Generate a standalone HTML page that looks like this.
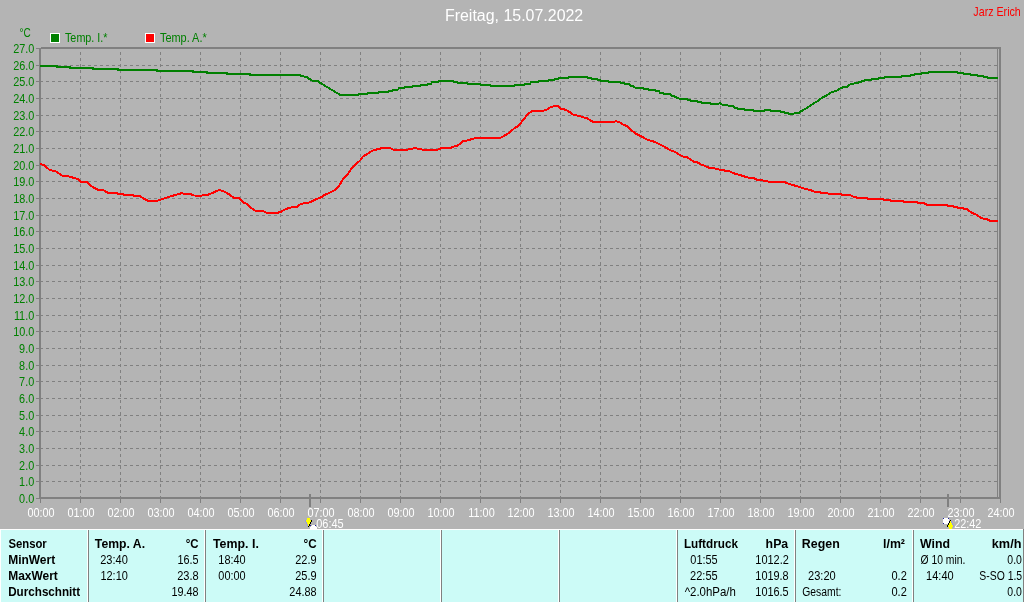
<!DOCTYPE html>
<html><head><meta charset="utf-8"><title>Freitag, 15.07.2022</title>
<style>
html,body{margin:0;padding:0;background:#b4b4b4;}
body{width:1024px;height:602px;overflow:hidden;position:relative;font-family:"Liberation Sans",sans-serif;}
svg{position:absolute;left:0;top:0;display:block;font-family:"Liberation Sans",sans-serif;}
</style></head>
<body>
<svg width="1024" height="602" viewBox="0 0 1024 602" font-size="12.5">
<rect x="0" y="0" width="1024" height="602" fill="#b4b4b4"/>
<!-- grid -->
<g stroke="#808080" stroke-width="1" stroke-dasharray="3 3" shape-rendering="crispEdges">
<line x1="40" y1="481.5" x2="999" y2="481.5"/><line x1="40" y1="465.5" x2="999" y2="465.5"/><line x1="40" y1="448.5" x2="999" y2="448.5"/><line x1="40" y1="431.5" x2="999" y2="431.5"/><line x1="40" y1="415.5" x2="999" y2="415.5"/><line x1="40" y1="398.5" x2="999" y2="398.5"/><line x1="40" y1="381.5" x2="999" y2="381.5"/><line x1="40" y1="365.5" x2="999" y2="365.5"/><line x1="40" y1="348.5" x2="999" y2="348.5"/><line x1="40" y1="331.5" x2="999" y2="331.5"/><line x1="40" y1="315.5" x2="999" y2="315.5"/><line x1="40" y1="298.5" x2="999" y2="298.5"/><line x1="40" y1="281.5" x2="999" y2="281.5"/><line x1="40" y1="265.5" x2="999" y2="265.5"/><line x1="40" y1="248.5" x2="999" y2="248.5"/><line x1="40" y1="231.5" x2="999" y2="231.5"/><line x1="40" y1="215.5" x2="999" y2="215.5"/><line x1="40" y1="198.5" x2="999" y2="198.5"/><line x1="40" y1="181.5" x2="999" y2="181.5"/><line x1="40" y1="165.5" x2="999" y2="165.5"/><line x1="40" y1="148.5" x2="999" y2="148.5"/><line x1="40" y1="131.5" x2="999" y2="131.5"/><line x1="40" y1="115.5" x2="999" y2="115.5"/><line x1="40" y1="98.5" x2="999" y2="98.5"/><line x1="40" y1="81.5" x2="999" y2="81.5"/><line x1="40" y1="65.5" x2="999" y2="65.5"/>
</g>
<g stroke="#808080" stroke-width="1" stroke-dasharray="3 3" shape-rendering="crispEdges">
<line x1="80.5" y1="52" x2="80.5" y2="499"/><line x1="120.5" y1="52" x2="120.5" y2="499"/><line x1="160.5" y1="52" x2="160.5" y2="499"/><line x1="200.5" y1="52" x2="200.5" y2="499"/><line x1="240.5" y1="52" x2="240.5" y2="499"/><line x1="280.5" y1="52" x2="280.5" y2="499"/><line x1="320.5" y1="52" x2="320.5" y2="499"/><line x1="360.5" y1="52" x2="360.5" y2="499"/><line x1="400.5" y1="52" x2="400.5" y2="499"/><line x1="440.5" y1="52" x2="440.5" y2="499"/><line x1="480.5" y1="52" x2="480.5" y2="499"/><line x1="520.5" y1="52" x2="520.5" y2="499"/><line x1="560.5" y1="52" x2="560.5" y2="499"/><line x1="600.5" y1="52" x2="600.5" y2="499"/><line x1="640.5" y1="52" x2="640.5" y2="499"/><line x1="680.5" y1="52" x2="680.5" y2="499"/><line x1="720.5" y1="52" x2="720.5" y2="499"/><line x1="760.5" y1="52" x2="760.5" y2="499"/><line x1="800.5" y1="52" x2="800.5" y2="499"/><line x1="840.5" y1="52" x2="840.5" y2="499"/><line x1="880.5" y1="52" x2="880.5" y2="499"/><line x1="920.5" y1="52" x2="920.5" y2="499"/><line x1="960.5" y1="52" x2="960.5" y2="499"/>
</g>
<!-- axes -->
<g fill="#808080" shape-rendering="crispEdges">
<rect x="39" y="48" width="2" height="451"/>
<rect x="41" y="47" width="960" height="2"/>
<rect x="39" y="497" width="962" height="2"/>
<rect x="999" y="47" width="2" height="452"/>
<rect x="997" y="49" width="1" height="448"/>
</g>
<g stroke="#808080" stroke-width="1" shape-rendering="crispEdges">
<line x1="36" y1="498.5" x2="40" y2="498.5"/><line x1="36" y1="481.5" x2="40" y2="481.5"/><line x1="36" y1="465.5" x2="40" y2="465.5"/><line x1="36" y1="448.5" x2="40" y2="448.5"/><line x1="36" y1="431.5" x2="40" y2="431.5"/><line x1="36" y1="415.5" x2="40" y2="415.5"/><line x1="36" y1="398.5" x2="40" y2="398.5"/><line x1="36" y1="381.5" x2="40" y2="381.5"/><line x1="36" y1="365.5" x2="40" y2="365.5"/><line x1="36" y1="348.5" x2="40" y2="348.5"/><line x1="36" y1="331.5" x2="40" y2="331.5"/><line x1="36" y1="315.5" x2="40" y2="315.5"/><line x1="36" y1="298.5" x2="40" y2="298.5"/><line x1="36" y1="281.5" x2="40" y2="281.5"/><line x1="36" y1="265.5" x2="40" y2="265.5"/><line x1="36" y1="248.5" x2="40" y2="248.5"/><line x1="36" y1="231.5" x2="40" y2="231.5"/><line x1="36" y1="215.5" x2="40" y2="215.5"/><line x1="36" y1="198.5" x2="40" y2="198.5"/><line x1="36" y1="181.5" x2="40" y2="181.5"/><line x1="36" y1="165.5" x2="40" y2="165.5"/><line x1="36" y1="148.5" x2="40" y2="148.5"/><line x1="36" y1="131.5" x2="40" y2="131.5"/><line x1="36" y1="115.5" x2="40" y2="115.5"/><line x1="36" y1="98.5" x2="40" y2="98.5"/><line x1="36" y1="81.5" x2="40" y2="81.5"/><line x1="36" y1="65.5" x2="40" y2="65.5"/><line x1="36" y1="48.5" x2="40" y2="48.5"/><line x1="40.5" y1="499" x2="40.5" y2="503"/><line x1="80.5" y1="499" x2="80.5" y2="503"/><line x1="120.5" y1="499" x2="120.5" y2="503"/><line x1="160.5" y1="499" x2="160.5" y2="503"/><line x1="200.5" y1="499" x2="200.5" y2="503"/><line x1="240.5" y1="499" x2="240.5" y2="503"/><line x1="280.5" y1="499" x2="280.5" y2="503"/><line x1="320.5" y1="499" x2="320.5" y2="503"/><line x1="360.5" y1="499" x2="360.5" y2="503"/><line x1="400.5" y1="499" x2="400.5" y2="503"/><line x1="440.5" y1="499" x2="440.5" y2="503"/><line x1="480.5" y1="499" x2="480.5" y2="503"/><line x1="520.5" y1="499" x2="520.5" y2="503"/><line x1="560.5" y1="499" x2="560.5" y2="503"/><line x1="600.5" y1="499" x2="600.5" y2="503"/><line x1="640.5" y1="499" x2="640.5" y2="503"/><line x1="680.5" y1="499" x2="680.5" y2="503"/><line x1="720.5" y1="499" x2="720.5" y2="503"/><line x1="760.5" y1="499" x2="760.5" y2="503"/><line x1="800.5" y1="499" x2="800.5" y2="503"/><line x1="840.5" y1="499" x2="840.5" y2="503"/><line x1="880.5" y1="499" x2="880.5" y2="503"/><line x1="920.5" y1="499" x2="920.5" y2="503"/><line x1="960.5" y1="499" x2="960.5" y2="503"/><line x1="1000.5" y1="499" x2="1000.5" y2="503"/>
</g>
<!-- sunrise / sunset marker ticks -->
<g fill="#808080" shape-rendering="crispEdges">
<rect x="309" y="494" width="2" height="13"/>
<rect x="947" y="494" width="2" height="13"/>
</g>
<!-- curves -->
<g fill="none" stroke-width="2" stroke-linejoin="miter" shape-rendering="crispEdges">
<polyline stroke="#ff0000" points="40,163.9 44,165 47,167.8 50,170.2 54,170.9 57,171.9 62,175.6 67,175.9 71,177 74,178 78,178.9 80.6,181.7 87,181.9 90.8,186 94.7,188 97.8,189.7 103,190 108,192.8 117,193.1 118,193.9 123,193.9 124,194.8 133,194.8 134,195.8 140,195.8 143,198.3 147.8,200.6 149,201 157,201 160.3,199.7 165,198.1 169.7,196.6 174.4,195.2 179,194 182,193 184,193.9 190,194 194,195.5 200,195.6 207,195.2 209.4,193.9 213.3,192.7 216.4,190.9 219.5,190 223.4,191.1 227.3,193.1 230.5,195.5 233.6,197.8 239,198.3 243,202.2 246.9,204 251.6,208.3 255.5,210.8 263,211.1 266.4,212.8 268,213 277,213 281.25,211.6 285,209.5 288.3,208.1 292.2,207.2 297,207.2 300,204.4 304,203.1 308,203.1 311,201.7 315.6,199.4 320.3,197.8 325,194.7 329.7,192.8 333.6,190.8 336.7,188.75 339.8,184.5 343,179 347.7,174.4 352.3,167.3 356.25,163.75 360,160.6 363,156.4 367.8,153.75 372.5,150.6 377,149.4 382,148.1 390,148.1 393.6,149.7 407,149.8 410,148.9 415.5,148.1 418.6,148.9 424,149.8 437,149.8 441.25,148.3 450,148.1 453.75,146.6 457.7,145.5 463,141.25 467.8,140.3 471.7,139.2 475.6,138 500,137.8 503,136.6 506.9,134.2 510.8,131.4 514.7,128 517.8,126.25 520,123.8 524,118.9 527.8,114.2 531.7,111.1 543,110.8 546.6,109.8 550.5,107.2 554.4,106.1 557.5,105.9 560.6,108.75 566,109.8 570,112.3 573,114.5 579.4,116.1 587.2,118.4 590.3,120.5 593.4,122 614,122 616,121.25 619,122 623,124.4 627,126.25 631.7,130.6 636.4,134 641,136.1 645,138.4 648,140 652.8,141.25 659,143.9 665.3,147.3 670,150.2 674.7,151.7 680,155 683,156.6 687,157 691,160 694,161.7 697,162 700,164 705,166 709.7,168 717,168.75 720,169.8 723,169.8 726,171.4 730,171.4 734,173.4 739.4,174.8 744,176.4 748.75,177.7 753,177.7 756.6,179.7 761,180 764.4,180.8 768.3,181.6 783,181.6 787,183.1 791,184.4 794.8,185.6 799.5,187 804,188.6 809.7,189.8 814.4,191.7 820,191.7 821.4,193 827,193 828.4,193.75 840,194 843,195 850,195 853,196.4 857,197.7 867,197.8 868,198.9 883,198.9 884.5,200 890,200 891.5,201 903,201 904,201.9 917,201.9 918,203.1 924,203.1 925,203.9 927.5,204.8 947,204.8 948,205.9 953,205.9 954,207 957,207 958,208.1 963,208.1 964,209 967,209 969.7,211.4 972.8,213.3 976.7,214.8 980.6,217.7 983.75,218.75 987.7,219.5 990.8,221.1 998,221.1"/>
<polyline stroke="#008000" points="40,66 57,66 57,67 70,67 70,68 93,68 93,69 118,69 118,70 157,70 157,71 193,71 193,72 207,72 207,73 227,73 227,74 250,74 250,75 300,75 301,76 303.5,76 304.5,77 307.5,77 309,78.8 311.5,80.2 313.5,81 317.5,81 322,84 328,87.6 334,91.2 340,94.8 358,94.8 359,94 367,94 368,93 378,93 379,92 388,92 389,90.8 392,90.6 393,89.5 398,89.5 399,88.3 404,88.3 405,87 412,87 413,86 420,86 421,84.7 427,84.7 428,83.6 431,83.6 432,82.3 438,82.2 439,81 453,81 454,81.9 457,81.9 458,82.8 467,82.8 468,83.75 480,83.75 481,84.7 490,84.7 491,86 514,86 515,85 524,85 525,83.6 530,83.6 531,82.3 538,82.3 539,81 548,81 549,79.8 554,79.8 555,79 558,79 559,78 568,78 569,77 587,77 588,78 591,78 592,79 597,79 598,80 600,80 601,81 608,81 609,82 620,82 621,83 624,83 625,84 629,84 631,86 633,86.3 636,88 643,88 644,89 648,89 649,90 655,90 656,91.2 659,91.3 660,92.7 663,92.8 664,93.9 670,94 672,95.8 674,96 676,97.3 680,98.9 687,99 688,100 690,100 691,101 697,101 698,102 701,102 702,103 710,103 711,104 718,104 720,103.2 722,104.5 727,104.8 729,106.2 733,106.3 735,107.8 737,107.9 738,108.9 744,108.9 745,109.8 753,109.8 754,110.9 764,110.9 765,109.9 770,109.9 771,110.9 780,110.9 781,112 784,112 785,113.1 788,113.1 789,114 793,114 795,112.9 799,112.7 803.4,109.8 808,107.3 812.8,103.9 817.5,101.1 822,97.7 827,95.3 831.5,92.2 836,91 840,88.6 843,87.3 847,87.1 849,85.2 851,84 854,83.6 855,82.8 858,82.8 859,81.7 861,81.7 862,80.8 864,80.8 865,79.8 871,79.7 872,78.9 878,78.9 879,78 884,78 885,77 901,77 902,75.9 910,75.8 911,74.8 914,74.7 915,73.9 921,73.9 922,73 928,73 929,72 957,72 958,73 963,73 964,74 970,74 971,75 977,75 978,76 983,76 984,77 987,77 988,78 998,78"/>
</g>
<!-- legend -->
<g shape-rendering="crispEdges">
<rect x="50" y="33" width="10" height="10" fill="#fff"/><rect x="51" y="34" width="8" height="8" fill="#008000"/>
<rect x="145" y="33" width="10" height="10" fill="#fff"/><rect x="146" y="34" width="8" height="8" fill="#ff0000"/>
</g>
<!-- table -->
<g shape-rendering="crispEdges">
<rect x="0" y="529" width="1024" height="73" fill="#fff"/>
<rect x="1" y="530" width="1022" height="72" fill="#ccfbf7"/>
<rect x="1023" y="529" width="1" height="73" fill="#808080"/>
<rect x="87" y="530" width="1" height="72" fill="#fff"/><rect x="88" y="530" width="1" height="72" fill="#808080"/><rect x="204" y="530" width="1" height="72" fill="#fff"/><rect x="205" y="530" width="1" height="72" fill="#808080"/><rect x="322" y="530" width="1" height="72" fill="#fff"/><rect x="323" y="530" width="1" height="72" fill="#808080"/><rect x="440" y="530" width="1" height="72" fill="#fff"/><rect x="441" y="530" width="1" height="72" fill="#808080"/><rect x="558" y="530" width="1" height="72" fill="#fff"/><rect x="559" y="530" width="1" height="72" fill="#808080"/><rect x="676" y="530" width="1" height="72" fill="#fff"/><rect x="677" y="530" width="1" height="72" fill="#808080"/><rect x="794" y="530" width="1" height="72" fill="#fff"/><rect x="795" y="530" width="1" height="72" fill="#808080"/><rect x="912" y="530" width="1" height="72" fill="#fff"/><rect x="913" y="530" width="1" height="72" fill="#808080"/>
</g>
<!-- sunrise icon -->
<g shape-rendering="crispEdges">
<path d="M307 518h3v2h2v2h-1v2h-1v2h-1v1h-1v-1h-1v-2h-1v-2h-1v-2h2z" fill="#ffff00"/>
<path d="M311 520h1v2h-1zM310 522h1v2h-1zM309 524h1v2h-1zM308 526h1v1h-1z" fill="#000"/>
<path d="M305 520h1v2h-1zM306 522h1v2h-1zM307 524h1v2h-1z" fill="#9494e4"/>
<path d="M312 525h3v1h1v1h1v2h-7v-2h1v-1h1z" fill="#fff"/>
<path d="M310 525h1v1h-1zM315 525h1v1h-1z" fill="#2020a0"/>
</g>
<!-- sunset icon -->
<g shape-rendering="crispEdges">
<path d="M944 518h4v1h1v4h-1v1h-4v-1h-1v-4h1z" fill="#fff"/>
<path d="M943 518h1v1h-1zM948 518h1v1h-1zM943 523h1v1h-1z" fill="#2020a0"/>
<path d="M950 520h1v1h1v2h1v2h1v2h-2v2h-3v-2h-2v-2h1v-2h1v-2h1z" fill="#ffff00"/>
<path d="M950 520h1v1h-1zM949 521h1v2h-1zM948 523h1v2h-1zM947 525h1v2h-1z" fill="#000"/>
<path d="M951 521h1v2h-1zM952 523h1v2h-1zM953 525h1v2h-1z" fill="#9494e4"/>
</g>
<!-- text -->
<g style="will-change:transform">
<text transform="translate(444.95,21) scale(0.997,1)" font-size="16" fill="#fff">Freitag, 15.07.2022</text>
<text transform="translate(973.37,16) scale(0.855,1)" fill="#ff0000">Jarz Erich</text>
<text transform="translate(19.60,37) scale(0.800,1)" fill="#008000">°C</text>
<text transform="translate(64.98,42) scale(0.864,1)" fill="#008000">Temp. I.*</text>
<text transform="translate(159.98,42) scale(0.874,1)" fill="#008000">Temp. A.*</text>
<text transform="translate(19.11,503) scale(0.870,1)" fill="#008000">0.0</text>
<text transform="translate(19.11,486) scale(0.870,1)" fill="#008000">1.0</text>
<text transform="translate(19.11,470) scale(0.870,1)" fill="#008000">2.0</text>
<text transform="translate(19.11,453) scale(0.870,1)" fill="#008000">3.0</text>
<text transform="translate(19.11,436) scale(0.870,1)" fill="#008000">4.0</text>
<text transform="translate(19.11,420) scale(0.870,1)" fill="#008000">5.0</text>
<text transform="translate(19.11,403) scale(0.870,1)" fill="#008000">6.0</text>
<text transform="translate(19.11,386) scale(0.870,1)" fill="#008000">7.0</text>
<text transform="translate(19.11,370) scale(0.870,1)" fill="#008000">8.0</text>
<text transform="translate(19.11,353) scale(0.870,1)" fill="#008000">9.0</text>
<text transform="translate(13.24,336) scale(0.870,1)" fill="#008000">10.0</text>
<text transform="translate(13.89,320) scale(0.870,1)" fill="#008000">11.0</text>
<text transform="translate(13.24,303) scale(0.870,1)" fill="#008000">12.0</text>
<text transform="translate(13.24,286) scale(0.870,1)" fill="#008000">13.0</text>
<text transform="translate(13.24,270) scale(0.870,1)" fill="#008000">14.0</text>
<text transform="translate(13.24,253) scale(0.870,1)" fill="#008000">15.0</text>
<text transform="translate(13.24,236) scale(0.870,1)" fill="#008000">16.0</text>
<text transform="translate(13.24,220) scale(0.870,1)" fill="#008000">17.0</text>
<text transform="translate(13.24,203) scale(0.870,1)" fill="#008000">18.0</text>
<text transform="translate(13.24,186) scale(0.870,1)" fill="#008000">19.0</text>
<text transform="translate(13.24,170) scale(0.870,1)" fill="#008000">20.0</text>
<text transform="translate(13.24,153) scale(0.870,1)" fill="#008000">21.0</text>
<text transform="translate(13.24,136) scale(0.870,1)" fill="#008000">22.0</text>
<text transform="translate(13.24,120) scale(0.870,1)" fill="#008000">23.0</text>
<text transform="translate(13.24,103) scale(0.870,1)" fill="#008000">24.0</text>
<text transform="translate(13.24,86) scale(0.870,1)" fill="#008000">25.0</text>
<text transform="translate(13.24,70) scale(0.870,1)" fill="#008000">26.0</text>
<text transform="translate(13.24,53) scale(0.870,1)" fill="#008000">27.0</text>
<text transform="translate(27.45,517) scale(0.870,1)" fill="#fff">00:00</text>
<text transform="translate(67.45,517) scale(0.870,1)" fill="#fff">01:00</text>
<text transform="translate(107.45,517) scale(0.870,1)" fill="#fff">02:00</text>
<text transform="translate(147.45,517) scale(0.870,1)" fill="#fff">03:00</text>
<text transform="translate(187.45,517) scale(0.870,1)" fill="#fff">04:00</text>
<text transform="translate(227.45,517) scale(0.870,1)" fill="#fff">05:00</text>
<text transform="translate(267.45,517) scale(0.870,1)" fill="#fff">06:00</text>
<text transform="translate(307.45,517) scale(0.870,1)" fill="#fff">07:00</text>
<text transform="translate(347.45,517) scale(0.870,1)" fill="#fff">08:00</text>
<text transform="translate(387.45,517) scale(0.870,1)" fill="#fff">09:00</text>
<text transform="translate(427.45,517) scale(0.870,1)" fill="#fff">10:00</text>
<text transform="translate(468.32,517) scale(0.870,1)" fill="#fff">11:00</text>
<text transform="translate(507.45,517) scale(0.870,1)" fill="#fff">12:00</text>
<text transform="translate(547.45,517) scale(0.870,1)" fill="#fff">13:00</text>
<text transform="translate(587.45,517) scale(0.870,1)" fill="#fff">14:00</text>
<text transform="translate(627.45,517) scale(0.870,1)" fill="#fff">15:00</text>
<text transform="translate(667.45,517) scale(0.870,1)" fill="#fff">16:00</text>
<text transform="translate(707.45,517) scale(0.870,1)" fill="#fff">17:00</text>
<text transform="translate(747.45,517) scale(0.870,1)" fill="#fff">18:00</text>
<text transform="translate(787.45,517) scale(0.870,1)" fill="#fff">19:00</text>
<text transform="translate(827.45,517) scale(0.870,1)" fill="#fff">20:00</text>
<text transform="translate(867.45,517) scale(0.870,1)" fill="#fff">21:00</text>
<text transform="translate(907.45,517) scale(0.870,1)" fill="#fff">22:00</text>
<text transform="translate(947.45,517) scale(0.870,1)" fill="#fff">23:00</text>
<text transform="translate(987.45,517) scale(0.870,1)" fill="#fff">24:00</text>
<text transform="translate(316.26,528) scale(0.879,1)" fill="#fff">06:45</text>
<text transform="translate(954.14,528) scale(0.873,1)" fill="#fff">22:42</text>
<text transform="translate(8.45,548) scale(0.905,1)" font-weight="bold">Sensor</text>
<text transform="translate(8.18,564) scale(0.958,1)" font-weight="bold">MinWert</text>
<text transform="translate(8.18,580) scale(0.957,1)" font-weight="bold">MaxWert</text>
<text transform="translate(8.20,596) scale(0.934,1)" font-weight="bold">Durchschnitt</text>
<text transform="translate(94.86,548) scale(0.977,1)" font-weight="bold">Temp. A.</text>
<text transform="translate(185.71,548) scale(0.918,1)" font-weight="bold">°C</text>
<text transform="translate(100.24,564) scale(0.883,1)">23:40</text>
<text transform="translate(177.53,564) scale(0.866,1)">16.5</text>
<text transform="translate(100.42,580) scale(0.877,1)">12:10</text>
<text transform="translate(177.14,580) scale(0.883,1)">23.8</text>
<text transform="translate(171.43,596) scale(0.867,1)">19.48</text>
<text transform="translate(212.95,548) scale(0.992,1)" font-weight="bold">Temp. I.</text>
<text transform="translate(303.50,548) scale(0.933,1)" font-weight="bold">°C</text>
<text transform="translate(218.33,564) scale(0.874,1)">18:40</text>
<text transform="translate(295.24,564) scale(0.878,1)">22.9</text>
<text transform="translate(218.36,580) scale(0.873,1)">00:00</text>
<text transform="translate(295.24,580) scale(0.878,1)">25.9</text>
<text transform="translate(289.35,596) scale(0.870,1)">24.88</text>
<text transform="translate(683.90,548) scale(0.938,1)" font-weight="bold">Luftdruck</text>
<text transform="translate(765.62,548) scale(0.984,1)" font-weight="bold">hPa</text>
<text transform="translate(690.31,564) scale(0.876,1)">01:55</text>
<text transform="translate(755.32,564) scale(0.878,1)">1012.2</text>
<text transform="translate(690.09,580) scale(0.883,1)">22:55</text>
<text transform="translate(755.33,580) scale(0.872,1)">1019.8</text>
<text transform="translate(684.67,596) scale(0.917,1)">^2.0hPa/h</text>
<text transform="translate(755.33,596) scale(0.872,1)">1016.5</text>
<text transform="translate(801.86,548) scale(0.993,1)" font-weight="bold">Regen</text>
<text transform="translate(883.01,548) scale(0.990,1)" font-weight="bold">l/m²</text>
<text transform="translate(808.09,580) scale(0.883,1)">23:20</text>
<text transform="translate(891.46,580) scale(0.883,1)">0.2</text>
<text transform="translate(802.28,596) scale(0.829,1)">Gesamt:</text>
<text transform="translate(891.46,596) scale(0.883,1)">0.2</text>
<text transform="translate(920.05,548) scale(0.988,1)" font-weight="bold">Wind</text>
<text transform="translate(991.78,548) scale(1.018,1)" font-weight="bold">km/h</text>
<text transform="translate(920.48,564) scale(0.830,1)">Ø 10 min.</text>
<text transform="translate(1007.33,564) scale(0.839,1)">0.0</text>
<text transform="translate(926.12,580) scale(0.881,1)">14:40</text>
<text transform="translate(979.27,580) scale(0.834,1)">S-SO 1.5</text>
<text transform="translate(1007.33,596) scale(0.839,1)">0.0</text>
</g>
</svg>
</body></html>
